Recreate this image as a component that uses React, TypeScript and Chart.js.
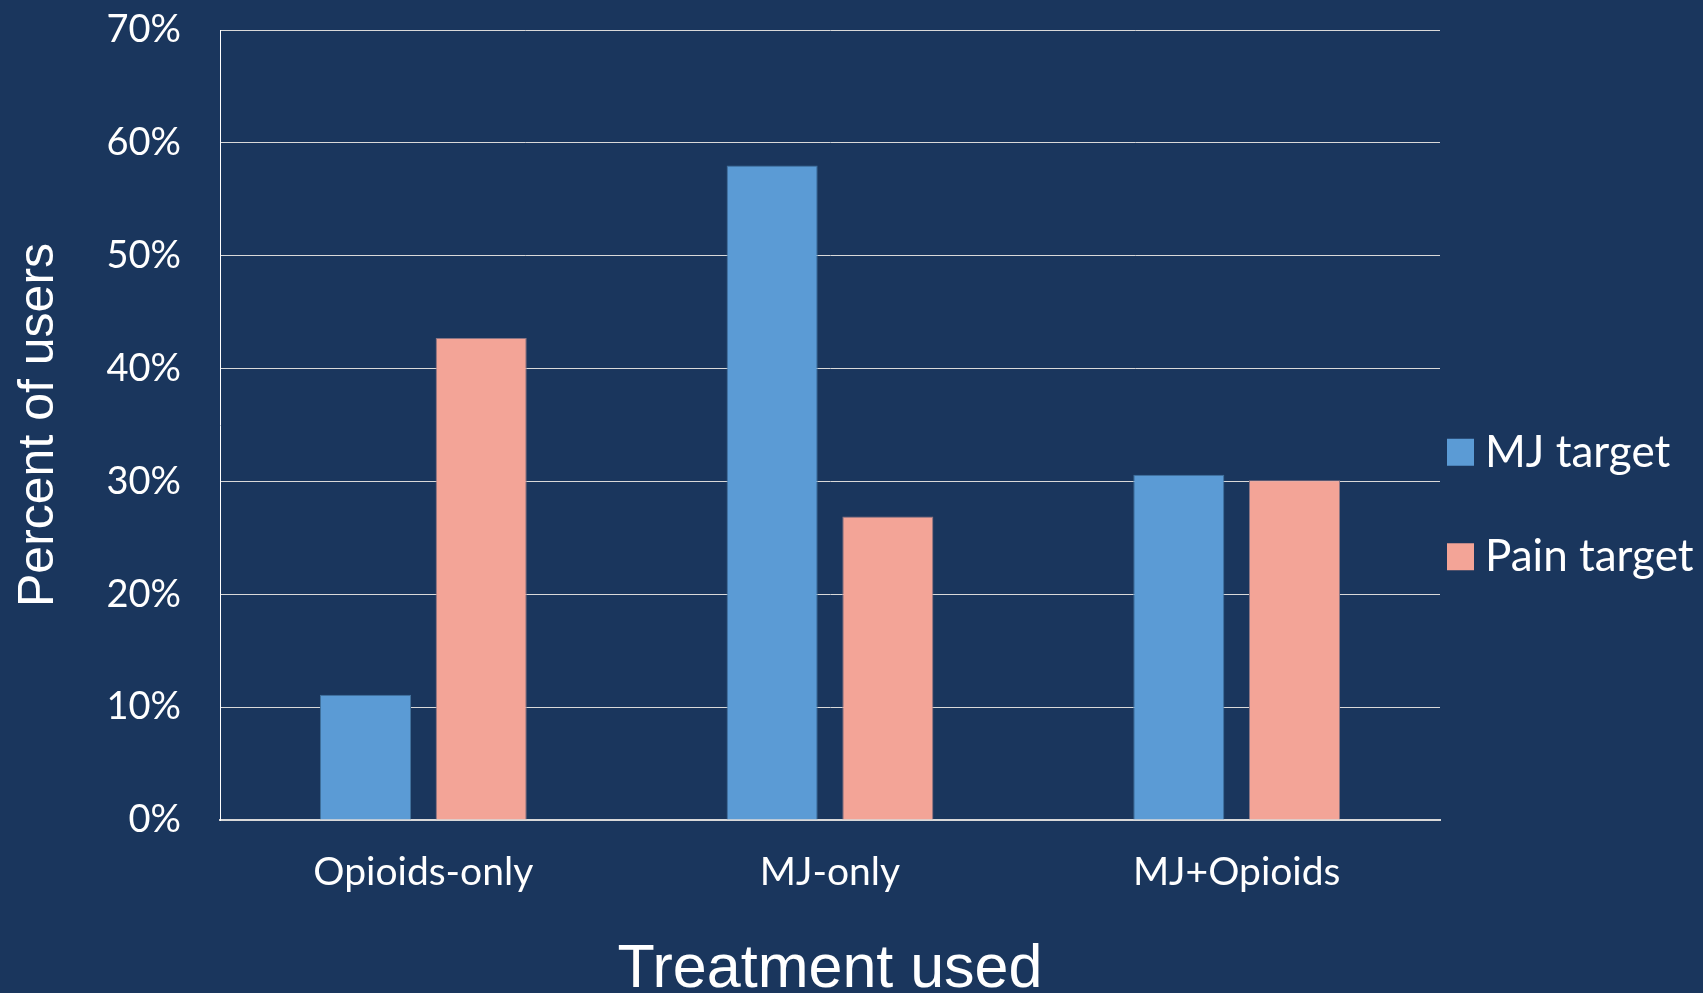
import React, { useEffect, useRef } from 'react';
import { Chart, registerables } from 'chart.js';

Chart.register(...registerables);

// Share of users by treatment, split by target
const categories = ['Opioids-only', 'MJ-only', 'MJ+Opioids'];
const seriesNames = ['MJ target', 'Pain target'];
const mjTarget = [11.1, 58.0, 30.6];
const painTarget = [42.7, 26.9, 30.1];
const yMin = 0;
const yMax = 70;
const yStep = 10;
const xTitle = 'Treatment used';
const yTitle = 'Percent of users';

const W = 1703;
const H = 993;
const BG = '#1A365D';
const FONT = 'Lato, "Open Sans", sans-serif';
const TITLE_FONT = '"Liberation Sans", Arial, sans-serif';

// Legend drawn at the right side of the plot, one row per dataset
const sideLegend = {
  id: 'sideLegend',
  afterDraw(chart: any) {
    const { ctx, chartArea } = chart;
    const sets = chart.data.datasets;
    const box = 27;
    const gap = 104.5;
    const mid = chart.height / 2 + 8;
    ctx.save();
    ctx.font = `44px ${FONT}`;
    ctx.textBaseline = 'alphabetic';
    ctx.textAlign = 'left';
    sets.forEach((ds: any, i: number) => {
      const cy = mid + (i - (sets.length - 1) / 2) * gap;
      const x0 = chartArea.right + 7;
      ctx.fillStyle = ds.backgroundColor;
      ctx.fillRect(x0, cy - box / 2, box, box);
      ctx.fillStyle = '#FFFFFF';
      ctx.fillText(ds.label, x0 + box + 11, cy + 14.5);
    });
    ctx.restore();
  },
};

export default function App() {
  const ref = useRef<HTMLCanvasElement | null>(null);

  useEffect(() => {
    if (!ref.current) return;
    const chart = new Chart(ref.current, {
      type: 'bar',
      data: {
        labels: categories,
        datasets: [
          {
            label: seriesNames[0],
            data: mjTarget,
            backgroundColor: '#5B9BD5',
            borderColor: '#41719C',
            borderWidth: 1,
          },
          {
            label: seriesNames[1],
            data: painTarget,
            backgroundColor: '#F3A497',
            borderColor: '#8C7583',
            borderWidth: 1,
          },
        ],
      },
      options: {
        responsive: false,
        animation: false,
        devicePixelRatio: 1,
        layout: { padding: { top: 30, right: W - 1440, bottom: 0, left: 0 } },
        datasets: {
          bar: { barPercentage: 0.787, categoryPercentage: 0.569 },
        },
        plugins: {
          legend: { display: false },
          tooltip: { enabled: false },
        },
        scales: {
          x: {
            grid: { display: false, drawTicks: false },
            border: { display: true, color: '#D9D9D9', width: 2 },
            ticks: { color: '#FFFFFF', font: { family: FONT, size: 39 }, padding: 29 },
            title: {
              display: true,
              text: xTitle,
              color: '#FFFFFF',
              font: { family: TITLE_FONT, size: 61 },
              padding: { top: 0, bottom: -14 },
            },
            afterFit: (s: any) => {
              s.height = 173;
              s.paddingLeft = 0;
              s.paddingRight = 0;
            },
          },
          y: {
            min: yMin,
            max: yMax,
            grid: { color: '#D9D9D9', lineWidth: 1, drawTicks: false },
            border: { display: true, color: '#FFFFFF', width: 1 },
            ticks: {
              stepSize: yStep,
              color: '#FFFFFF',
              font: { family: FONT, size: 38 },
              padding: 39,
              callback: (v: any) => `${v}%`,
            },
            title: {
              display: true,
              text: yTitle,
              color: '#FFFFFF',
              font: { family: TITLE_FONT, size: 50 },
              padding: { top: 9, bottom: 0 },
            },
            afterFit: (s: any) => {
              s.width = 220;
              s.paddingTop = 0;
              s.paddingBottom = 0;
            },
          },
        },
      },
      plugins: [sideLegend],
    });
    return () => chart.destroy();
  }, []);

  return (
    <div style={{ position: 'absolute', left: 0, top: 0, width: W, height: H, background: BG, overflow: 'hidden' }}>
      <canvas ref={ref} width={W} height={H} style={{ display: 'block' }} />
    </div>
  );
}
